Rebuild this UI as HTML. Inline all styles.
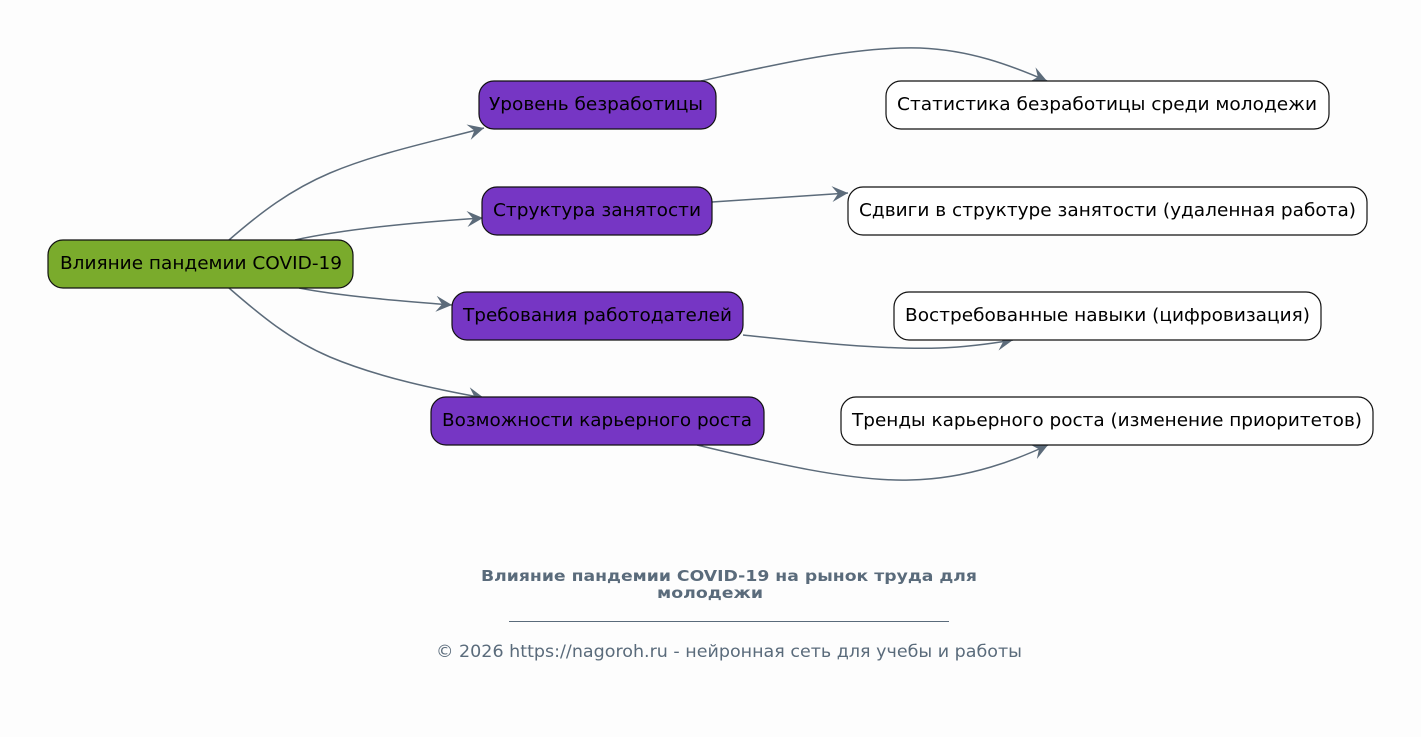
<!DOCTYPE html>
<html><head><meta charset="utf-8">
<style>
html,body{margin:0;padding:0;background:#fdfdfd;}
svg{display:block;}
text{font-family:"DejaVu Sans","Liberation Sans",sans-serif;}
</style></head>
<body>
<svg width="1421" height="737" viewBox="0 0 1421 737" xmlns="http://www.w3.org/2000/svg">
<rect width="1421" height="737" fill="#fdfdfd"/>
<defs>
<marker id="a" markerWidth="20" markerHeight="18" refX="16" refY="8" orient="auto" markerUnits="userSpaceOnUse">
<path d="M0,0 L16,8 L0,16 L6,8 Z" fill="#5c6b7a"/>
</marker>
</defs>
<g fill="none" stroke="#5c6b7a" stroke-width="1.5">
<path d="M229,240 C260,213 290,190 330,173 C380,152 440,140 484,128" marker-end="url(#a)"/>
<path d="M295,240 C350,228 420,222 483,218" marker-end="url(#a)"/>
<path d="M299,288 C340,296 400,301 452,305" marker-end="url(#a)"/>
<path d="M229,288 C260,315 290,340 330,357 C380,378 440,390 484,398" marker-end="url(#a)"/>
<path d="M701,81 C760,68 850,46 920,48 C970,50 1010,65 1047,81" marker-end="url(#a)"/>
<path d="M712,202 L848,193" marker-end="url(#a)"/>
<path d="M743,335 C800,341 880,350 940,348 C970,347 995,343 1013,340" marker-end="url(#a)"/>
<path d="M697,445 C760,460 850,482 910,480 C970,479 1020,458 1048,445" marker-end="url(#a)"/>
</g>
<g stroke="#111" stroke-width="1.2">
<rect x="48" y="240" width="305" height="48" rx="15" fill="#7aab2c"/>
<rect x="479" y="81" width="237" height="48" rx="15" fill="#7636c4"/>
<rect x="482" y="187" width="230" height="48" rx="15" fill="#7636c4"/>
<rect x="452" y="292" width="291" height="48" rx="15" fill="#7636c4"/>
<rect x="431" y="397" width="333" height="48" rx="15" fill="#7636c4"/>
<rect x="886" y="81" width="443" height="48" rx="15" fill="#ffffff"/>
<rect x="848" y="187" width="519" height="48" rx="15" fill="#ffffff"/>
<rect x="894" y="292" width="427" height="48" rx="15" fill="#ffffff"/>
<rect x="841" y="397" width="532" height="48" rx="15" fill="#ffffff"/>
</g>
<g font-size="17.6" fill="#000" text-anchor="middle">
<text x="201" y="269" textLength="282" lengthAdjust="spacingAndGlyphs">Влияние пандемии COVID-19</text>
<text x="596" y="110" textLength="214" lengthAdjust="spacingAndGlyphs">Уровень безработицы</text>
<text x="597" y="216" textLength="208" lengthAdjust="spacingAndGlyphs">Структура занятости</text>
<text x="597.5" y="321" textLength="269" lengthAdjust="spacingAndGlyphs">Требования работодателей</text>
<text x="597" y="426" textLength="310" lengthAdjust="spacingAndGlyphs">Возможности карьерного роста</text>
<text x="1107" y="110" textLength="420" lengthAdjust="spacingAndGlyphs">Статистика безработицы среди молодежи</text>
<text x="1107.5" y="216" textLength="497" lengthAdjust="spacingAndGlyphs">Сдвиги в структуре занятости (удаленная работа)</text>
<text x="1107.5" y="321" textLength="405" lengthAdjust="spacingAndGlyphs">Востребованные навыки (цифровизация)</text>
<text x="1107" y="426" textLength="510" lengthAdjust="spacingAndGlyphs">Тренды карьерного роста (изменение приоритетов)</text>
</g>
<g fill="#5a6b7b" text-anchor="middle">
<text x="729" y="581" font-size="15.5" font-weight="bold" textLength="496" lengthAdjust="spacingAndGlyphs">Влияние пандемии COVID-19 на рынок труда для</text>
<text x="710" y="598" font-size="15.5" font-weight="bold" textLength="106" lengthAdjust="spacingAndGlyphs">молодежи</text>
<text x="729" y="657" font-size="16.5" textLength="586" lengthAdjust="spacingAndGlyphs">© 2026 https://nagoroh.ru - нейронная сеть для учебы и работы</text>
</g>
<line x1="509" y1="621.5" x2="949" y2="621.5" stroke="#5a6b7b" stroke-width="1"/>
</svg>
</body></html>
